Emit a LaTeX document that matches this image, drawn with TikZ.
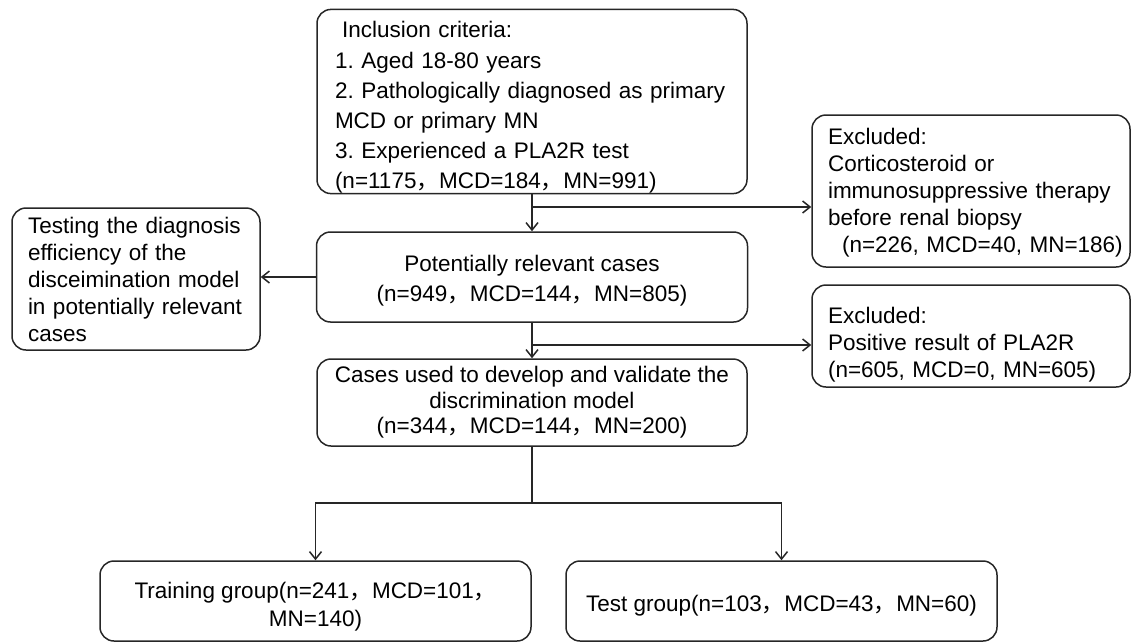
\documentclass[tikz,border=0pt]{standalone}
\usepackage{fontspec}
\setmainfont{Liberation Sans}
\newfontfamily\cjk{Noto Sans CJK SC}
\newcommand{\vf}{{\cjk ，}}
\newcommand{\haut}[1]{\rule{0pt}{#1}}
\usetikzlibrary{arrows.meta}
\frenchspacing

\begin{document}
\begin{tikzpicture}[x=1pt, y=-1pt, >={Straight Barb[length=7.5pt,width=12pt]},
    boite/.style={draw=black!85, line width=1.5pt, rounded corners=14pt,
        inner ysep=0pt, font=\fontsize{22.5}{27}\selectfont},
    fleche/.style={->, line width=1.5pt, draw=black!85}]
        \useasboundingbox (0,0) rectangle (1133,643);

        % --- Boîte d'inclusion (en haut) ---
        \node[boite, align=left, inner xsep=18pt, text width=394pt,
            minimum height=183pt, font=\fontsize{22.5}{30.2}\selectfont]
            (inclusion) at (532, 101.5)
            {\haut{28.5pt}\hspace{7pt}Inclusion criteria:\\
             1. Aged 18-80 years\\
             2. Pathologically diagnosed as primary\\
             MCD or primary MN\\
             3. Experienced a PLA2R test\\
             (n=1175\vf MCD=184\vf MN=991)};

        % --- Premier critère d'exclusion ---
        \node[boite, align=left, inner xsep=16pt, text width=286pt,
            minimum height=152pt] (exclu1) at (971, 191)
            {\haut{19pt}Excluded:\\
             Corticosteroid or\\
             immunosuppressive therapy\\
             before renal biopsy\\
             \mbox{\hspace{14pt}(n=226, MCD=40, MN=186)}};

        % --- Cas potentiellement pertinents ---
        \node[boite, align=center, minimum width=431pt, minimum height=90pt,
            font=\fontsize{22.5}{30}\selectfont] (pertinents) at (532, 277)
            {\haut{24.5pt}Potentially relevant cases\\
             (n=949\vf MCD=144\vf MN=805)};

        % --- Évaluation du modèle (à gauche) ---
        \node[boite, align=left, inner xsep=16pt, text width=216pt,
            minimum height=142pt] (evaluation) at (136, 279)
            {Testing the diagnosis\\
             efficiency of the\\
             disceimination model\\
             in potentially relevant\\
             cases};

        % --- Second critère d'exclusion ---
        \node[boite, align=left, inner xsep=16pt, text width=286pt,
            minimum height=102pt] (exclu2) at (971, 336)
            {\haut{34pt}Excluded:\\
             Positive result of PLA2R\\
             (n=605, MCD=0, MN=605)};

        % --- Cas du modèle de discrimination ---
        \node[boite, align=center, minimum width=430pt, minimum height=87pt,
            font=\fontsize{22.5}{25.5}\selectfont] (modele) at (532, 402.5)
            {Cases used to develop and validate the\\
             discrimination model\\
             (n=344\vf MCD=144\vf MN=200)};

        % --- Groupes d'entraînement et de test ---
        \node[boite, align=center, minimum width=431pt, minimum height=80pt,
            font=\fontsize{22.5}{28}\selectfont] (entrainement) at (315.5, 601)
            {\haut{28.5pt}Training group(n=241\vf MCD=101\vf\\
             MN=140)};
        \node[boite, align=center, minimum width=431pt, minimum height=80pt]
            (test) at (781.5, 601)
            {\haut{26.5pt}Test group(n=103\vf MCD=43\vf MN=60)};

        % --- Points de branchement ---
        \coordinate (b1) at (532, 207);
        \coordinate (b2) at (532, 345);
        \coordinate (b3) at (532, 503);

        % --- Flèches ---
        \draw[fleche] (inclusion.south) -- (pertinents.north);
        \draw[fleche] (b1) -- (b1 -| exclu1.west);
        \draw[fleche] (pertinents.west) -- (pertinents.west -| evaluation.east);
        \draw[fleche] (pertinents.south) -- (modele.north);
        \draw[fleche] (b2) -- (b2 -| exclu2.west);
        \draw[fleche] (modele.south) -- (b3) -| (entrainement.north);
        \draw[fleche] (b3) -| (test.north);

    \end{tikzpicture}
\end{document}
